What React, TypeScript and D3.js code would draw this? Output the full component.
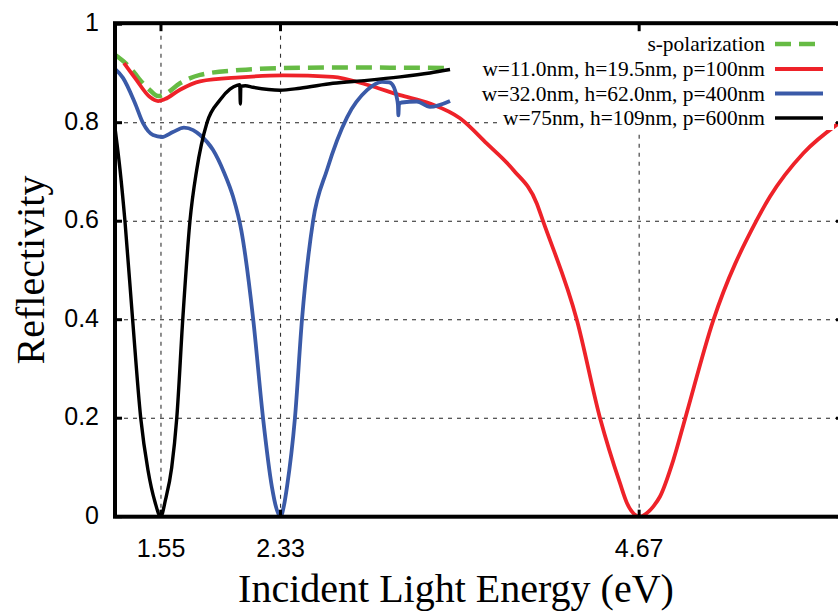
import React from "react";
import * as d3 from "d3";

// Reflectivity spectra (energy in eV, reflectivity 0..1)
const sPolarization: [number, number][] = [
  [1.25, 0.938], [1.315, 0.922], [1.38, 0.9], [1.413, 0.887], [1.478, 0.866], [1.531, 0.854],
  [1.576, 0.858], [1.674, 0.88], [1.805, 0.897], [2.066, 0.907], [2.346, 0.911],
  [2.8, 0.912], [3.436, 0.911],
];

const gratingA: [number, number][] = [
  [1.309, 0.921], [1.38, 0.891], [1.478, 0.852], [1.531, 0.844], [1.576, 0.848],
  [1.674, 0.867], [1.805, 0.884], [2.066, 0.892], [2.346, 0.896], [2.672, 0.893],
  [2.894, 0.877], [3.11, 0.856], [3.305, 0.839], [3.501, 0.809], [3.675, 0.758],
  [3.849, 0.704], [4.002, 0.636], [4.043, 0.6], [4.264, 0.399], [4.415, 0.2],
  [4.545, 0.068], [4.59, 0.028], [4.635, 0.006], [4.675, 0.0], [4.715, 0.006],
  [4.763, 0.021], [4.806, 0.041], [4.893, 0.115], [4.969, 0.198], [5.154, 0.399],
  [5.437, 0.602], [5.524, 0.65], [5.741, 0.738], [5.973, 0.799], [6.0, 0.805],
];

const gratingB: [number, number][] = [
  [1.25, 0.909], [1.302, 0.891], [1.38, 0.84], [1.433, 0.799], [1.498, 0.775],
  [1.557, 0.771], [1.628, 0.781], [1.7, 0.79], [1.76, 0.785], [1.805, 0.775],
  [1.889, 0.745], [1.96, 0.7], [2.02, 0.65], [2.075, 0.58],
  [2.152, 0.4], [2.216, 0.2], [2.274, 0.06], [2.302, 0.018], [2.33, 0.0],
  [2.352, 0.022], [2.372, 0.06], [2.424, 0.2], [2.47, 0.4], [2.542, 0.6],
  [2.633, 0.704], [2.764, 0.811], [2.894, 0.866], [2.992, 0.883], [3.04, 0.882],
  [3.07, 0.872], [3.088, 0.852], [3.096, 0.836], [3.099, 0.815], [3.103, 0.838],
  [3.12, 0.841], [3.219, 0.843], [3.305, 0.832], [3.436, 0.844],
];

const gratingC: [number, number][] = [
  [1.25, 0.79], [1.262, 0.76], [1.283, 0.704], [1.315, 0.6], [1.365, 0.4],
  [1.418, 0.2], [1.465, 0.095], [1.511, 0.03], [1.548, 0.0], [1.58, 0.035],
  [1.62, 0.1], [1.653, 0.2], [1.692, 0.4], [1.739, 0.6], [1.783, 0.704],
  [1.85, 0.8], [1.935, 0.846], [2.0, 0.868], [2.046, 0.876], [2.064, 0.877],
  [2.068, 0.838], [2.071, 0.874], [2.1, 0.875], [2.15, 0.872], [2.327, 0.866],
  [2.457, 0.87], [2.672, 0.88], [2.894, 0.886], [3.11, 0.893], [3.305, 0.901],
  [3.436, 0.908],
];

const xTickValues = [1.55, 2.33, 4.67];
const xTickLabels = ["1.55", "2.33", "4.67"];
const yTickValues = [0, 0.2, 0.4, 0.6, 0.8, 1];
const yTickLabels = ["0", "0.2", "0.4", "0.6", "0.8", "1"];

const seriesNames = [
  "s-polarization",
  "w=11.0nm, h=19.5nm, p=100nm",
  "w=32.0nm, h=62.0nm, p=400nm",
  "w=75nm, h=109nm, p=600nm",
];

const GREEN = "#66bb44";
const RED = "#ee2229";
const BLUE = "#3a5aa8";
const BLACK = "#000000";

const W = 838;
const H = 611;
const left = 115;
const right = 843;
const top = 24.2;
const bottom = 516.7;

export default function App() {
  const x = d3.scaleLinear().domain([1.25, 6.0]).range([left, right]);
  const y = d3.scaleLinear().domain([0, 1]).range([bottom, top]);
  const line = d3
    .line<[number, number]>()
    .x((d) => x(d[0]))
    .y((d) => y(d[1]))
    .curve(d3.curveMonotoneX);

  const series = [
    { data: sPolarization, color: GREEN, width: 4.5, dash: "16,8" },
    { data: gratingA, color: RED, width: 3.8, dash: undefined },
    { data: gratingB, color: BLUE, width: 3.8, dash: undefined },
    { data: gratingC, color: BLACK, width: 3.4, dash: undefined },
  ];

  const sans = "'Liberation Sans', Arial, Helvetica, sans-serif";
  const serif = "'Liberation Serif', 'Times New Roman', serif";

  const legendRight = 765;
  const legendRows = [44, 69, 93.5, 118];

  return (
    <svg
      width={W}
      height={H}
      style={{ position: "absolute", left: 0, top: 0, background: "#fff" }}
    >
      <defs>
        <clipPath id="plotArea">
          <rect x={left} y={top} width={right - left} height={bottom - top} />
        </clipPath>
      </defs>
      <rect x={0} y={0} width={W} height={H} fill="#fff" />

      {/* grid */}
      {yTickValues.slice(1, -1).map((v) => (
        <line
          key={"gy" + v}
          x1={left}
          x2={right}
          y1={y(v)}
          y2={y(v)}
          stroke="#222"
          strokeWidth={1.1}
          strokeDasharray="4,5"
        />
      ))}
      {xTickValues.map((v) => (
        <line
          key={"gx" + v}
          x1={x(v)}
          x2={x(v)}
          y1={bottom}
          y2={top}
          stroke="#333"
          strokeWidth={1.1}
          strokeDasharray="4,5"
        />
      ))}

      {/* curves */}
      <g clipPath="url(#plotArea)">
        {series.map((s, i) => (
          <path
            key={i}
            d={line(s.data) || ""}
            fill="none"
            stroke={s.color}
            strokeWidth={s.width}
            strokeDasharray={s.dash}
            strokeLinejoin="round"
          />
        ))}
      </g>

      {/* legend */}
      <rect x={497} y={32} width={337} height={98} fill="#fff" />
      {seriesNames.map((name, i) => (
        <g key={name}>
          <text
            x={legendRight}
            y={legendRows[i] + 7}
            textAnchor="end"
            fontFamily={serif}
            fontSize={21.4}
            fill="#000"
          >
            {name}
          </text>
          <line
            x1={775}
            x2={823}
            y1={legendRows[i]}
            y2={legendRows[i]}
            stroke={series[i].color}
            strokeWidth={series[i].width}
            strokeDasharray={series[i].dash}
          />
        </g>
      ))}

      {/* ticks */}
      {yTickValues.map((v) => (
        <g key={"ty" + v}>
          <line x1={left} x2={left + 7} y1={y(v)} y2={y(v)} stroke="#000" strokeWidth={3} />
          <line x1={right} x2={right - 7} y1={y(v)} y2={y(v)} stroke="#000" strokeWidth={3} />
        </g>
      ))}
      {xTickValues.map((v) => (
        <g key={"tx" + v}>
          <line x1={x(v)} x2={x(v)} y1={bottom} y2={bottom - 7} stroke="#000" strokeWidth={3} />
          <line x1={x(v)} x2={x(v)} y1={top} y2={top + 7} stroke="#000" strokeWidth={3} />
        </g>
      ))}

      {/* frame */}
      <rect
        x={left}
        y={top - 1}
        width={right - left}
        height={bottom - top + 1}
        fill="none"
        stroke="#000"
        strokeWidth={4}
      />

      {/* tick labels */}
      {yTickValues.map((v, i) => (
        <text
          key={"ly" + v}
          x={99}
          y={y(v) + 7}
          textAnchor="end"
          fontFamily={sans}
          fontSize={25}
          fill="#000"
        >
          {yTickLabels[i]}
        </text>
      ))}
      {xTickValues.map((v, i) => (
        <text
          key={"lx" + v}
          x={x(v)}
          y={557}
          textAnchor="middle"
          fontFamily={sans}
          fontSize={25}
          fill="#000"
        >
          {xTickLabels[i]}
        </text>
      ))}

      {/* axis titles */}
      <text
        x={456}
        y={602}
        textAnchor="middle"
        fontFamily={serif}
        fontSize={40}
        fill="#000"
      >
        Incident Light Energy (eV)
      </text>
      <text
        transform="translate(44,270) rotate(-90)"
        textAnchor="middle"
        fontFamily={serif}
        fontSize={40}
        fill="#000"
      >
        Reflectivity
      </text>
    </svg>
  );
}
